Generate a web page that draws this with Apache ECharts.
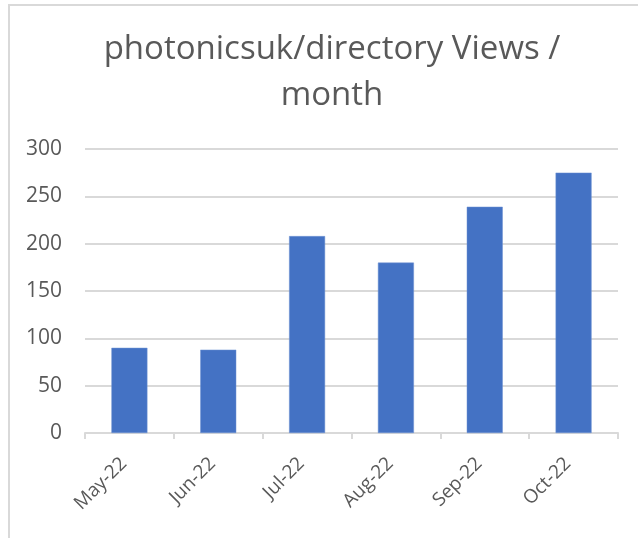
<!DOCTYPE html>
<html>
<head>
<meta charset="utf-8">
<script src="https://cdn.jsdelivr.net/npm/echarts@6/dist/echarts.min.js"></script>
<style>
  html, body { margin: 0; padding: 0; background: #fff; }
  #frame { position: absolute; left: 8px; top: 4px; width: 700px; height: 600px;
           border-left: 2px solid #d9d9d9; border-top: 2px solid #d9d9d9; }
  #chart { position: absolute; left: 0; top: 0; width: 638px; height: 538px; }
</style>
</head>
<body>
<div id="frame"></div>
<div id="chart"></div>
<script>
// 月份与浏览量
const months = ['May-22', 'Jun-22', 'Jul-22', 'Aug-22', 'Sep-22', 'Oct-22'];
const views = [90, 88, 208, 180, 239, 275];
const yTicks = { min: 0, max: 300, step: 50 };

const chart = echarts.init(document.getElementById('chart'), null, { renderer: 'canvas' });
const textColor = '#595959';
const lineColor = '#d9d9d9';

const option = {
  animation: false,
  title: {
    text: 'photonicsuk/directory Views /\nmonth',
    left: 327,
    textAlign: 'center',
    top: 22,
    textStyle: {
      fontFamily: 'Open Sans',
      fontSize: 33,
      fontWeight: 'normal',
      color: textColor,
      lineHeight: 46
    }
  },
  grid: { left: 85, right: 20, top: 149, bottom: 105, containLabel: false },
  xAxis: {
    type: 'category',
    data: months,
    axisLine: { show: true, lineStyle: { color: lineColor, width: 2 } },
    axisTick: { show: true, length: 6, lineStyle: { color: lineColor, width: 2 } },
    axisLabel: {
      rotate: 45,
      margin: 22,
      padding: [0, 8, 0, 0],
      color: textColor,
      fontFamily: 'Open Sans',
      fontSize: 19
    }
  },
  yAxis: {
    type: 'value',
    min: yTicks.min,
    max: yTicks.max,
    interval: yTicks.step,
    axisLine: { show: false },
    axisTick: { show: false },
    splitLine: { lineStyle: { color: lineColor, width: 2 } },
    axisLabel: {
      margin: 23,
      color: textColor,
      fontFamily: 'Open Sans',
      fontSize: 21
    }
  },
  series: [{
    type: 'bar',
    data: views,
    barWidth: 36,
    itemStyle: { color: '#4472c4', borderColor: '#6f93d3', borderWidth: 0.5 }
  }]
};
chart.setOption(option);
</script>
</body>
</html>
